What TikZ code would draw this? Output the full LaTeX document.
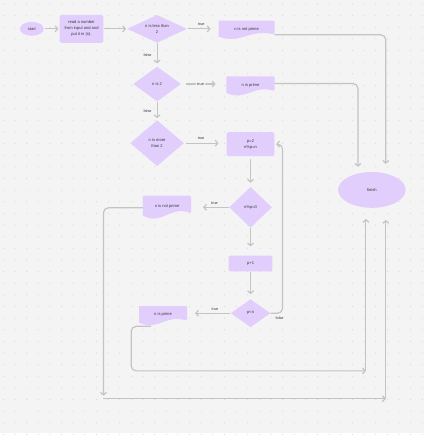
\documentclass[tikz,border=0pt]{standalone}
\usepackage{fontspec}
\setmainfont{Liberation Sans}
\usetikzlibrary{shapes.geometric, arrows.meta, calc, backgrounds}

\definecolor{bg}{HTML}{F4F4F4}
\definecolor{griddot}{HTML}{D9D9D9}
\definecolor{shapefill}{HTML}{E2CEFC}
\definecolor{wire}{HTML}{C4C4C4}
\definecolor{ink}{HTML}{3A3A3A}

\begin{document}
\begin{tikzpicture}[x=1pt, y=-1pt,
  every node/.style={font=\fontsize{4.1}{6}\selectfont, text=ink, align=center, inner sep=0pt},
  terminal/.style={ellipse, fill=shapefill},
  process/.style={rectangle, rounded corners=1.5pt, fill=shapefill},
  decision/.style={diamond, shape aspect=2, fill=shapefill},
  docbox/.style={rectangle, text height=2.9pt, text depth=3.5pt},
  conn/.style={draw=wire, line width=1.2pt, rounded corners=5pt,
    -{Straight Barb[length=2.6pt,width=6pt]}},
  lbl/.style={font=\fontsize{3.8}{4}\selectfont, text=ink, inner sep=0pt},
]

% canvas and dot grid
\begin{scope}[on background layer]
  \fill[bg] (0,0) rectangle (426,435);
  \foreach \i in {0,...,36}
    \foreach \j in {0,...,37}
      \fill[griddot] ({3.5+11.7*\i},{4+11.7*\j}) circle (0.6);
\end{scope}
\useasboundingbox (0,0) rectangle (426,435);

% flowchart nodes
\node[terminal, minimum width=24pt, minimum height=14pt] (start) at (32,29) {start};
\node[process, minimum width=44pt, minimum height=28pt] (read) at (82,29)
  {read a number\\from input and and\\put it in (n).};
\node[decision, minimum width=60pt, minimum height=28pt] (d1) at (158,29) {n is less than\\2};
\node[docbox, minimum width=56pt, minimum height=19pt] (np1) at (248,30.5) {n is not prime};
\node[decision, minimum width=48pt, minimum height=35pt] (d2) at (158,84.5) {n is 2};
\node[docbox, minimum width=48pt, minimum height=20pt] (pr1) at (252,87) {n is prime};
\node[decision, minimum width=54pt, minimum height=46pt] (d3) at (158,144) {n is more\\than 2};
\node[process, minimum width=48pt, minimum height=24pt] (init) at (252,145) {p=2\\n\%p=n};
\node[decision, minimum width=43pt, minimum height=41pt] (d4) at (252,208.5) {n\%p=0};
\node[docbox, minimum width=48pt, minimum height=24pt] (np2) at (168,209) {n is not prime};
\node[process, minimum width=44pt, minimum height=16pt] (inc) at (252,265) {p+1};
\node[decision, minimum width=40pt, minimum height=28pt] (d5) at (252,315) {p<n};
\node[docbox, minimum width=48pt, minimum height=20pt] (pr2) at (164,318) {n is prime};
\node[terminal, minimum width=68pt, minimum height=36pt] (finish) at (374,191) {finish};

% wavy-bottom document shapes behind the output nodes
\begin{scope}[on background layer]
  \foreach \doc in {np1,pr1,np2,pr2} {
    \fill[shapefill, rounded corners=1.2pt]
      let \p1=(\doc.south west), \p2=(\doc.north east),
          \n1={\x2-\x1}, \n2={\y2-\y1} in
      (\x1,\y2) -- (\x2,\y2) -- (\x2,{\y1+0.28*\n2})
      [rounded corners=0pt]
      .. controls ({\x1+0.55*\n1},{\y1+0.6*\n2}) and ({\x1+0.4*\n1},{\y1-0.25*\n2})
      .. (\x1,{\y1+0.18*\n2}) -- cycle;
  }
\end{scope}

% free ends of the long return lines
\coordinate (dropA) at (104,401);
\coordinate (turnA) at (388,401);
\coordinate (turnB) at (368,373);

% connectors
\draw[conn, shorten <=1pt, shorten >=1pt] (start) -- (read);
\draw[conn, shorten >=1pt] (read) -- (d1);
\draw[conn, shorten <=1pt, shorten >=8pt] (d1.east) -- (d1.east -| np1.west)
  node[lbl, pos=0.45, above=3pt] {true};
\draw[conn, shorten >=3pt] (d1) -- (d2) node[lbl, midway, left=5pt] {false};
\draw[conn, shorten <=5pt, shorten >=11pt] (d2.east) -- (d2.east -| pr1.west)
  node[lbl, pos=0.43, fill=bg, inner xsep=1.5pt, inner ysep=1pt] {true};
\draw[conn, shorten >=2pt] (d2) -- (d3) node[lbl, midway, left=5pt] {false};
\draw[conn, shorten <=2pt, shorten >=8pt] (d3.east) -- (d3.east -| init.west)
  node[lbl, pos=0.4, above=3pt] {true};
\draw[conn, shorten <=3pt, shorten >=4pt] (init) -- (d4);
\draw[conn, shorten >=12pt] (d4.west) -- (d4.west -| np2.east)
  node[lbl, pos=0.38, above=2pt] {true};
\draw[conn, shorten >=9pt] (d4) -- (inc);
\draw[conn, shorten >=5pt] (inc) -- (d5);
\draw[conn, shorten >=8pt] (d5.west) -- (d5.west -| pr2.east)
  node[lbl, pos=0.36, above=2pt] {true};
\draw[conn, shorten >=1.5pt] (d5.east) -- ++(12,0)
  node[lbl, below=2.5pt, xshift=-3pt] {false} |- (init.east);

\draw[conn, shorten >=8pt] ([yshift=-4.5pt]np1.east) -| ([xshift=14pt]finish.north);
\draw[conn, shorten >=5pt] ([yshift=3pt]pr1.east) -| ([xshift=-14pt]finish.north);

\draw[conn, shorten >=3pt] (np2.west) -| (dropA);
\draw[conn] (dropA) -- (turnA);
\draw[conn, shorten >=12pt] (turnA) -- (turnA |- finish.south);

\draw[conn] ([xshift=-12pt]pr2.south) -| (132,373) -- (turnB);
\draw[conn, shorten >=11pt] (turnB) -- (turnB |- finish.south);

\end{tikzpicture}
\end{document}
